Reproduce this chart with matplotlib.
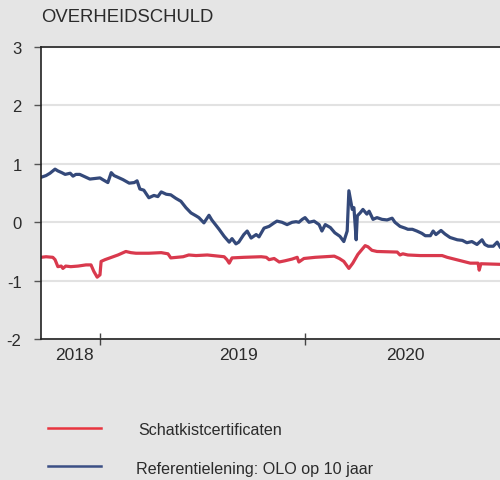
import pandas as pd
import matplotlib
matplotlib.use("Agg")
import matplotlib.pyplot as plt
from matplotlib.lines import Line2D

plt.rcParams['font.family'] = ['Liberation Sans', 'DejaVu Sans']

# Referentielening: OLO op 10 jaar (%)
olo_dates = ['2018-09-18', '2018-09-27', '2018-10-04', '2018-10-13', '2018-10-18', '2018-10-25',
             '2018-10-31', '2018-11-09', '2018-11-14', '2018-11-19', '2018-11-26', '2018-12-05',
             '2018-12-14', '2018-12-23', '2019-01-01', '2019-01-06', '2019-01-15', '2019-01-21',
             '2019-01-26', '2019-02-02', '2019-02-11', '2019-02-22', '2019-03-03', '2019-03-08',
             '2019-03-13', '2019-03-20', '2019-03-29', '2019-04-07', '2019-04-14', '2019-04-20',
             '2019-04-29', '2019-05-07', '2019-05-16', '2019-05-25', '2019-06-03', '2019-06-12',
             '2019-06-21', '2019-06-26', '2019-07-05', '2019-07-14', '2019-07-19', '2019-08-01',
             '2019-08-10', '2019-08-19', '2019-08-24', '2019-08-31', '2019-09-05', '2019-09-14',
             '2019-09-20', '2019-09-27', '2019-10-06', '2019-10-11', '2019-10-20', '2019-10-29',
             '2019-11-07', '2019-11-12', '2019-11-21', '2019-11-30', '2019-12-09', '2019-12-16',
             '2019-12-21', '2019-12-27', '2020-01-01', '2020-01-08', '2020-01-17', '2020-01-26',
             '2020-01-31', '2020-02-06', '2020-02-15', '2020-02-23', '2020-03-03', '2020-03-10',
             '2020-03-16', '2020-03-19', '2020-03-25', '2020-03-28', '2020-04-01', '2020-04-03',
             '2020-04-08', '2020-04-13', '2020-04-20', '2020-04-24', '2020-05-01', '2020-05-08',
             '2020-05-17', '2020-05-26', '2020-06-04', '2020-06-09', '2020-06-18', '2020-06-27',
             '2020-07-02', '2020-07-10', '2020-07-18', '2020-07-27', '2020-08-02', '2020-08-11',
             '2020-08-16', '2020-08-21', '2020-08-30', '2020-09-06', '2020-09-15', '2020-09-28',
             '2020-10-07', '2020-10-15', '2020-10-24', '2020-11-02', '2020-11-11', '2020-11-16',
             '2020-11-22', '2020-12-01', '2020-12-08', '2020-12-13']
olo_values = [0.77, 0.80, 0.84, 0.91, 0.88, 0.85,
              0.82, 0.84, 0.79, 0.82, 0.82, 0.78,
              0.74, 0.75, 0.76, 0.73, 0.68, 0.85,
              0.80, 0.77, 0.73, 0.67, 0.68, 0.71,
              0.57, 0.55, 0.42, 0.46, 0.44, 0.52,
              0.48, 0.47, 0.41, 0.36, 0.25, 0.16,
              0.11, 0.08, -0.01, 0.12, 0.04, -0.12,
              -0.24, -0.34, -0.28, -0.37, -0.34, -0.21,
              -0.15, -0.27, -0.21, -0.25, -0.10, -0.07,
              -0.01, 0.02, 0.00, -0.04, 0.00, 0.01,
              0.00, 0.05, 0.08, 0.00, 0.02, -0.04,
              -0.15, -0.04, -0.09, -0.18, -0.24, -0.33,
              -0.15, 0.54, 0.22, 0.25, -0.30, 0.11,
              0.16, 0.22, 0.14, 0.19, 0.05, 0.08,
              0.05, 0.04, 0.07, 0.00, -0.07, -0.10,
              -0.12, -0.12, -0.15, -0.19, -0.23, -0.23,
              -0.15, -0.21, -0.14, -0.20, -0.26, -0.30,
              -0.31, -0.35, -0.33, -0.38, -0.30, -0.38,
              -0.41, -0.41, -0.34, -0.42]

# Schatkistcertificaten (%)
sc_dates = ['2018-09-18', '2018-09-27', '2018-10-09', '2018-10-13', '2018-10-18', '2018-10-24',
            '2018-10-27', '2018-11-01', '2018-11-10', '2018-11-23', '2018-12-07', '2018-12-16',
            '2018-12-21', '2018-12-27', '2019-01-01', '2019-01-03', '2019-01-10', '2019-02-02',
            '2019-02-16', '2019-02-25', '2019-03-06', '2019-03-29', '2019-04-20', '2019-05-02',
            '2019-05-07', '2019-05-29', '2019-06-08', '2019-06-21', '2019-07-11', '2019-08-10',
            '2019-08-15', '2019-08-19', '2019-08-24', '2019-09-14', '2019-10-15', '2019-10-24',
            '2019-10-29', '2019-11-07', '2019-11-16', '2019-11-26', '2019-12-09', '2019-12-18',
            '2019-12-21', '2019-12-30', '2020-01-19', '2020-02-22', '2020-03-02', '2020-03-10',
            '2020-03-16', '2020-03-19', '2020-03-26', '2020-04-04', '2020-04-17', '2020-04-22',
            '2020-04-29', '2020-05-08', '2020-06-13', '2020-06-18', '2020-06-23', '2020-07-02',
            '2020-07-24', '2020-09-01', '2020-09-10', '2020-10-21', '2020-11-04', '2020-11-06',
            '2020-11-09', '2020-12-13']
sc_values = [-0.60, -0.59, -0.60, -0.64, -0.76, -0.75,
             -0.79, -0.75, -0.76, -0.75, -0.73, -0.73,
             -0.84, -0.94, -0.90, -0.67, -0.64, -0.56,
             -0.50, -0.52, -0.53, -0.53, -0.52, -0.54,
             -0.61, -0.59, -0.56, -0.57, -0.56, -0.59,
             -0.64, -0.70, -0.61, -0.60, -0.59, -0.60,
             -0.64, -0.62, -0.68, -0.66, -0.63, -0.60,
             -0.68, -0.62, -0.60, -0.58, -0.62, -0.67,
             -0.75, -0.79, -0.70, -0.55, -0.40, -0.42,
             -0.48, -0.50, -0.51, -0.56, -0.54, -0.56,
             -0.57, -0.57, -0.60, -0.70, -0.70, -0.82,
             -0.71, -0.72]

year_labels = ['2018', '2019', '2020']
year_label_dates = ['2018-11-16', '2019-09-04', '2020-06-27']
year_ticks = ['2019-01-01', '2020-01-01']

bg = '#e5e5e5'
red = '#d9394d'
blue = '#34497a'
txt = '#2b2b2b'

fig = plt.figure(figsize=(5, 4.81), dpi=100, facecolor=bg)
ax = fig.add_axes([0.082, 0.293, 0.918, 0.607])
ax.set_facecolor('white')

ax.plot(pd.to_datetime(sc_dates), sc_values, color=red, lw=2.3, solid_joinstyle='round')
ax.plot(pd.to_datetime(olo_dates), olo_values, color=blue, lw=2.3, solid_joinstyle='round')

ax.set_ylim(-2, 3)
ax.set_yticks([-2, -1, 0, 1, 2, 3])
ax.set_yticklabels(['-2', '-1', '0', '1', '2', '3'])
ax.set_xlim(pd.Timestamp('2018-09-18'), pd.Timestamp('2020-12-13'))
ax.grid(axis='y', color='#e2e2e2', lw=1.5)
ax.set_axisbelow(True)

ax.set_xticks(pd.to_datetime(year_ticks))
ax.set_xticklabels([])
ax.set_xticks(pd.to_datetime(year_label_dates), minor=True)
ax.set_xticklabels(year_labels, minor=True)
ax.tick_params(axis='x', which='major', direction='inout', length=9, width=1, color='#444444')
ax.tick_params(axis='x', which='minor', length=0, pad=6, labelsize=12.5, labelcolor=txt)
ax.tick_params(axis='y', direction='out', length=5, width=1, color='#555555',
               pad=9, labelsize=12, labelcolor=txt)

for side in ['left', 'bottom', 'top']:
    ax.spines[side].set_color('#222222')
    ax.spines[side].set_linewidth(1.2)
ax.spines['right'].set_visible(False)

fig.text(0.082, 0.964, 'OVERHEIDSCHULD', fontsize=13.3, color=txt, va='center', ha='left')

# legend
fig.lines.append(Line2D([0.096, 0.202], [0.108, 0.108], color='#e8353f', lw=1.8,
                        transform=fig.transFigure))
fig.lines.append(Line2D([0.096, 0.202], [0.029, 0.029], color='#3b4f85', lw=1.8,
                        transform=fig.transFigure))
fig.text(0.276, 0.104, 'Schatkistcertificaten', fontsize=11.6, color=txt, va='center')
fig.text(0.272, 0.023, 'Referentielening: OLO op 10 jaar', fontsize=11.6, color=txt, va='center')

fig.savefig('out.png', dpi=100, facecolor=bg)
